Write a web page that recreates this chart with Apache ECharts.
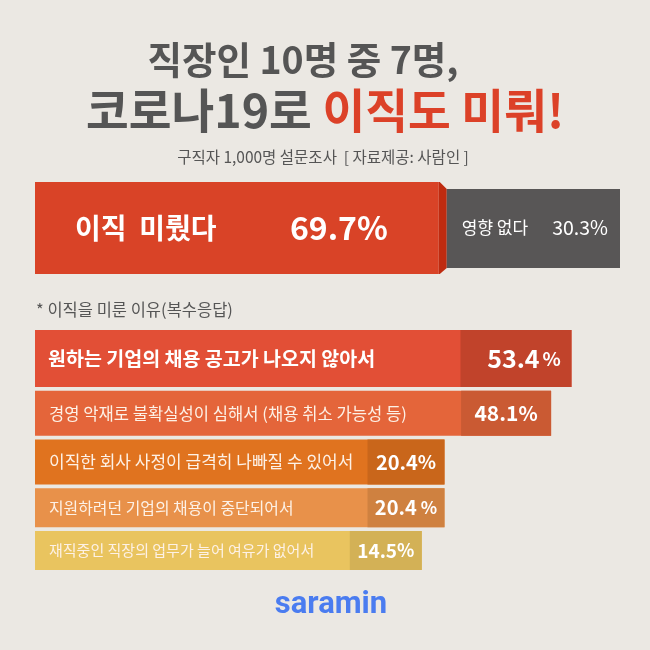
<!DOCTYPE html>
<html><head><meta charset="utf-8">
<script src="https://cdn.jsdelivr.net/npm/echarts@6/dist/echarts.min.js"></script>
<style>html,body{margin:0;padding:0;background:#ebe8e3}#c{width:650px;height:650px}</style>
</head><body><div id="c"></div>
<script>
// ---- data ----
const titleLine1 = '직장인 10명 중 7명,';
const titleLine2a = '코로나19로 ';
const titleLine2b = '이직도 미뤄!';
const subtitle = '구직자 1,000명 설문조사  [ 자료제공: 사람인 ]';
const reasonsNote = '* 이직을 미룬 이유(복수응답)';
const topLabels = ['이직  미뤘다', '영향 없다'];
const topValues = [69.7, 30.3];
const reasonLabels = [
  '원하는 기업의 채용 공고가 나오지 않아서',
  '경영 악재로 불확실성이 심해서 (채용 취소 가능성 등)',
  '이직한 회사 사정이 급격히 나빠질 수 있어서',
  '지원하려던 기업의 채용이 중단되어서',
  '재직중인 직장의 업무가 늘어 여유가 없어서'
];
const reasonValues = [53.4, 48.1, 20.4, 20.4, 14.5];
const brand = 'saramin';

// ---- styles ----
const FONT = '"Noto Sans CJK KR", "Noto Sans", sans-serif';
const reasonLight = ['#e24f36', '#e4653a', '#e0731f', '#e8914a', '#e9c45f'];
const reasonDark = ['#c1432b', '#ca5a33', '#c9661b', '#cf8140', '#d3b156'];
const rowHeights = [57, 45, 45, 39, 39];
const rowGap = 3.75;
const darkWidths = [111, 90, 77, 77, 72];
const labelSizes = [19.5, 16.6, 17, 15.9, 15];
const labelWeights = ['bold', 'normal', 'normal', 'normal', 'normal'];
const valueSizes = [25, 21, 20, 20, 19];
const pctSizes = [19, 20, 19, 17, 18];
const pctPad = [3, 0, 0, 4, 0];

const chart = echarts.init(document.getElementById('c'));

// cumulative segments for top bar
const topSegs = [];
let acc = 0;
topValues.forEach((v, i) => { topSegs.push([acc, acc + v, i]); acc += v; });

function renderTop(params, api) {
  const cs = params.coordSys;
  const i = api.value(2);
  const xs = api.coord([api.value(0), 0])[0];
  const xe = api.coord([api.value(1), 0])[0];
  const y0 = cs.y, h = cs.height;
  const children = [];
  if (i === 0) {
    children.push({ type: 'rect', shape: { x: xs, y: y0, width: xe - 4 - xs, height: h }, style: { fill: '#d94327' } });
    children.push({ type: 'polygon', shape: { points: [[xe - 4, y0], [xe - 3, y0], [xe + 4, y0 + 7], [xe + 4, y0 + h - 6], [xe - 3, y0 + h], [xe - 4, y0 + h]] }, style: { fill: '#bf2b10' } });
    children.push({ type: 'text', style: { text: topLabels[0], x: xs + 40, y: y0 + h / 2, fill: '#fff', fontSize: 28, fontWeight: 'bold', fontFamily: FONT, align: 'left', verticalAlign: 'middle' } });
    children.push({ type: 'text', style: { text: topValues[0].toFixed(1) + '%', x: xe - 55, y: y0 + h / 2, fill: '#fff', fontSize: 32, fontWeight: 'bold', fontFamily: FONT, align: 'right', verticalAlign: 'middle' } });
  } else {
    children.push({ type: 'rect', shape: { x: xs + 4, y: y0 + 7, width: xe - xs - 4, height: h - 13 }, style: { fill: '#585656' } });
    children.push({ type: 'text', style: { text: topLabels[1], x: xs + 19, y: y0 + h / 2 - 0.5, fill: '#fff', fontSize: 17, fontFamily: FONT, align: 'left', verticalAlign: 'middle' } });
    children.push({ type: 'text', style: { text: topValues[1].toFixed(1) + '%', x: xe - 12, y: y0 + h / 2, fill: '#fff', fontSize: 19.5, fontFamily: FONT, align: 'right', verticalAlign: 'middle' } });
  }
  return { type: 'group', children };
}

function renderReason(params, api) {
  const cs = params.coordSys;
  const i = params.dataIndex;
  const v = api.value(0);
  const x0 = cs.x;
  const xe = api.coord([v, i])[0];
  let top = cs.y;
  for (let j = 0; j < i; j++) top += rowHeights[j] + rowGap;
  const h = rowHeights[i];
  const dw = darkWidths[i];
  const cy = top + h / 2;
  return {
    type: 'group',
    children: [
      { type: 'rect', shape: { x: x0, y: top, width: xe - x0, height: h }, style: { fill: reasonLight[i] } },
      { type: 'rect', shape: { x: xe - dw, y: top, width: dw, height: h }, style: { fill: reasonDark[i] } },
      { type: 'text', style: { text: reasonLabels[i], x: x0 + (i === 0 ? 13 : 14), y: cy, fill: i === 0 ? '#fff' : '#fdf1e6', fontSize: labelSizes[i], fontWeight: labelWeights[i], fontFamily: FONT, align: 'left', verticalAlign: 'middle' } },
      { type: 'text', style: {
          text: '{n|' + v.toFixed(1) + '}{p|%}', x: xe - dw / 2 + (i === 0 ? 8 : 0), y: cy, align: 'center', verticalAlign: 'middle',
          rich: {
            n: { fontSize: valueSizes[i], fontWeight: 'bold', fontFamily: FONT, fill: '#fff' },
            p: { fontSize: pctSizes[i], fontWeight: 'bold', fontFamily: FONT, fill: '#fff', padding: [0, 0, 0, pctPad[i]] }
          }
      } }
    ]
  };
}

const option = {
  backgroundColor: '#ebe8e3',
  animation: false,
  grid: [
    { left: 35, width: 585, top: 182, height: 92 },
    { left: 35, width: 585, top: 330, height: 240 }
  ],
  xAxis: [
    { type: 'value', gridIndex: 0, min: 0, max: 100, show: false },
    { type: 'value', gridIndex: 1, min: -86, max: 66, show: false }
  ],
  yAxis: [
    { type: 'category', gridIndex: 0, data: ['전체'], show: false },
    { type: 'category', gridIndex: 1, data: reasonLabels, inverse: true, show: false }
  ],
  graphic: [
    { type: 'text', x: 303, y: 60, style: { text: titleLine1, fill: '#555555', fontSize: 37.5, fontWeight: 'bold', fontFamily: FONT, align: 'center', verticalAlign: 'middle' } },
    { type: 'text', x: 325, y: 110, style: {
        text: '{a|' + titleLine2a + '}{b|' + titleLine2b + '}', align: 'center', verticalAlign: 'middle',
        rich: {
          a: { fontSize: 46.5, fontWeight: 'bold', fontFamily: FONT, fill: '#555555' },
          b: { fontSize: 46.5, fontWeight: 'bold', fontFamily: FONT, fill: '#dc4128' }
        } } },
    { type: 'text', x: 323, y: 157, style: { text: subtitle, fill: '#555555', fontSize: 15.5, fontFamily: FONT, align: 'center', verticalAlign: 'middle' } },
    { type: 'text', x: 36, y: 310, style: { text: reasonsNote, fill: '#555555', fontSize: 16.5, fontFamily: FONT, align: 'left', verticalAlign: 'middle' } },
    { type: 'text', x: 331, y: 605, style: { text: brand, fill: '#4a7cf0', fontSize: 31, fontWeight: 'bold', fontFamily: 'Roboto, sans-serif', align: 'center', verticalAlign: 'middle' } }
  ],
  series: [
    { type: 'custom', xAxisIndex: 0, yAxisIndex: 0, data: topSegs, renderItem: renderTop },
    { type: 'custom', xAxisIndex: 1, yAxisIndex: 1, data: reasonValues.map(v => [v]), renderItem: renderReason }
  ]
};
chart.setOption(option);
</script>
</body></html>
